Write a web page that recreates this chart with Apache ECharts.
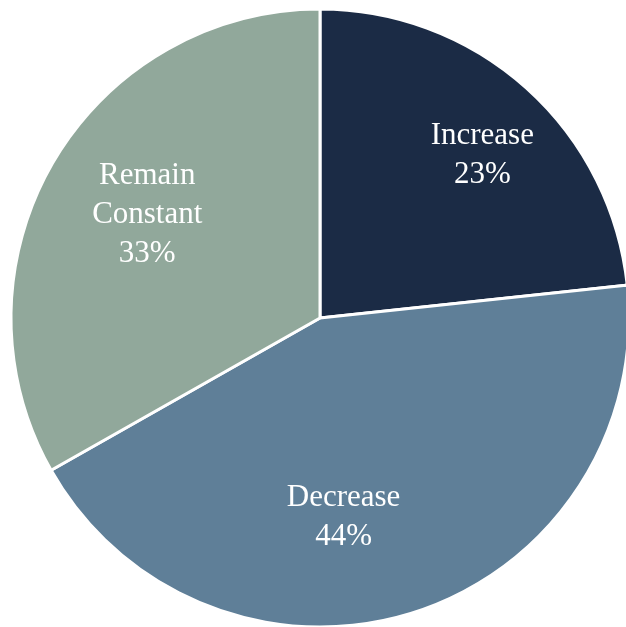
<!DOCTYPE html>
<html>
<head>
<meta charset="utf-8">
<script src="https://cdn.jsdelivr.net/npm/echarts@6/dist/echarts.min.js"></script>
<style>html,body{margin:0;padding:0;background:#fff;}#c{width:626px;height:627px;}</style>
</head>
<body>
<div id="c"></div>
<script>
const categories = ['Increase', 'Decrease', 'Remain Constant'];
const labelText = ['Increase', 'Decrease', 'Remain\nConstant'];
const values = [23.3, 43.5, 33.2];
const colors = ['#1b2b45', '#5f7f98', '#91a89b'];
// label placement: angle (deg clockwise from top) and fraction of radius
const labelAngle = [44.6, 173.2, 301.4];
const labelFrac = [0.748, 0.644, 0.655];

const cx = 320, cy = 318, R = 309;
const chart = echarts.init(document.getElementById('c'));
chart.setOption({
  animation: false,
  series: [{
    type: 'pie',
    center: [cx, cy],
    radius: [0, R],
    startAngle: 90,
    clockwise: true,
    avoidLabelOverlap: false,
    itemStyle: { borderColor: '#ffffff', borderWidth: 3 },
    label: {
      show: true,
      position: 'inside',
      color: '#ffffff',
      fontFamily: 'Liberation Serif',
      fontSize: 31,
      lineHeight: 39,
      align: 'center',
      formatter: p => labelText[p.dataIndex] + '\n' + Math.round(p.value) + '%'
    },
    labelLine: { show: false },
    labelLayout: function (p) {
      const a = labelAngle[p.dataIndex] * Math.PI / 180;
      const r = labelFrac[p.dataIndex] * R;
      return { x: cx + r * Math.sin(a), y: cy + 2 - r * Math.cos(a), align: 'center', verticalAlign: 'middle' };
    },
    data: categories.map((c, i) => ({ name: c, value: values[i], itemStyle: { color: colors[i] } }))
  }]
});
</script>
</body>
</html>
